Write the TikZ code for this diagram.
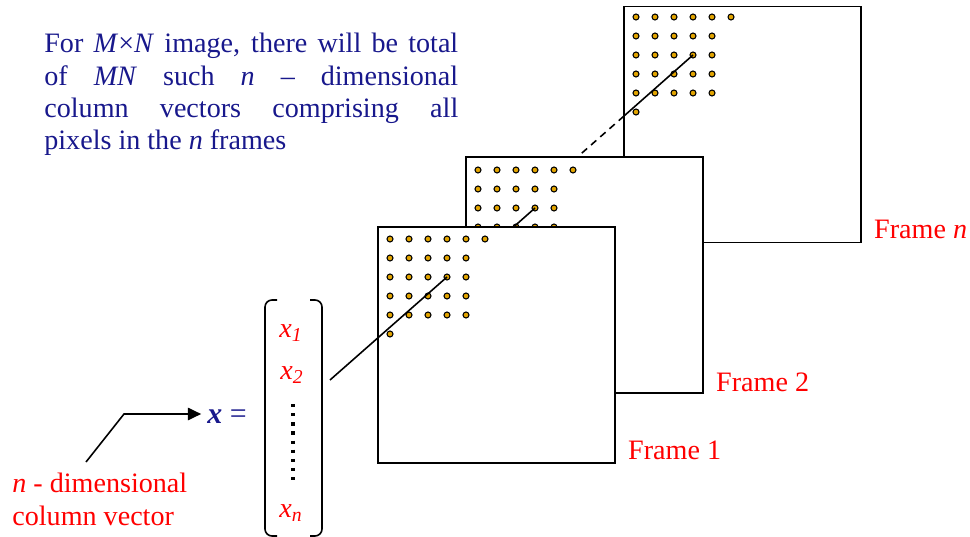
\documentclass[tikz,border=0pt]{standalone}
\usepackage{fontspec}
\setmainfont{Liberation Serif}
\usetikzlibrary{arrows.meta,positioning,calc}
\definecolor{navytxt}{RGB}{24,24,140}
\definecolor{pixgold}{RGB}{226,164,0}
% grid of pixels: top-left dot at (#1,#2), names #3-i-j
\newcommand{\pixgrid}[3]{%
  \foreach \j/\m in {0/5,1/4,2/4,3/4,4/4,5/0}
    \foreach \i in {0,...,\m}
      \node[pix] (#3-\i-\j) at (#1+19*\i,#2+19*\j) {};%
}
\newcommand{\xe}[1]{\textit{x}\textsubscript{\textit{#1}}}
\begin{document}
\begin{tikzpicture}[x=0.02cm,y=-0.02cm,
  frame/.style={draw,fill=white,line width=1pt,minimum width=4.74cm,minimum height=4.72cm,inner sep=0pt},
  pix/.style={circle,draw=black,fill=pixgold,line width=0.6pt,inner sep=0pt,minimum size=0.12cm},
  lab/.style={text=red,font=\fontsize{16}{18.7}\selectfont,inner sep=0pt},
  flab/.style={lab,anchor=base west},
  brk/.style={line width=0.9pt,rounded corners=0.14cm},
  ray/.style={line width=0.9pt}]
  \useasboundingbox (0,0) rectangle (970,537);

  % frame n
  \node[frame] (fn) at (742.5,124.5) {};
  \pixgrid{636}{17}{fn}
  \coordinate (edgen) at (624,116);
  \coordinate (gapn) at (574,160);
  \draw[ray] (fn-3-2.center) -- (edgen);
  \draw[ray,dash pattern=on 4pt off 3pt] (edgen) -- (gapn);
  \node[flab] (labn) at ([shift={(12,-5)}]fn.south east) {Frame \textit{n}};

  % frame 2
  \node[frame] (f2) at (584.5,275) {};
  \pixgrid{478}{170}{f2}
  \coordinate (gap2) at (500,239);
  \draw[ray] (f2-3-2.center) -- (gap2);
  \node[flab] (lab2) at ([shift={(12,-2)}]f2.south east) {Frame 2};

  % frame 1
  \node[frame] (f1) at (496.5,345) {};
  \pixgrid{390}{239}{f1}
  \coordinate (vtip) at (330,380);
  \draw[ray] (f1-3-2.center) -- (vtip);
  \node[flab] (lab1) at ([shift={(12,-4)}]f1.south east) {Frame 1};

  % column vector
  \draw[brk] (277,300) -- (265,300) -- (265,536) -- (277,536);
  \draw[brk] (310,300) -- (322,300) -- (322,536) -- (310,536);
  \node[lab] (x1) at (291,333) {\xe{1}};
  \node[lab] (x2) at (292,375) {\xe{2}};
  \node[lab] (xn) at (291,513) {\xe{n}};
  \draw[line width=2.2pt,dash pattern=on 1.9pt off 3.3pt] (293,404) -- (293,480);
  \node[text=navytxt,font=\fontsize{17}{20}\selectfont] (xeq) at (227,417) {\textbf{\textit{x}} =};

  % labels
  \node[lab,anchor=north west,align=left] (nlab) at (12,473) {\textit{n} - dimensional\\column vector};
  \coordinate (tail) at (86,462);
  \coordinate (bend) at (124,414);
  \draw[ray,-{Triangle[length=7.5pt,width=7pt]}] (tail) -- (bend) -- (bend -| xeq.west);

  \node[text=navytxt,font=\fontsize{16}{18.4}\selectfont,anchor=north west,text width=8.28cm,align=justify,inner sep=0pt] (note) at (44,33)
    {For \textit{M}×\textit{N} image, there will be total\linebreak of \textit{MN} such \textit{n} – dimensional\linebreak column vectors comprising all\linebreak pixels in the \textit{n} frames};
\end{tikzpicture}
\end{document}
